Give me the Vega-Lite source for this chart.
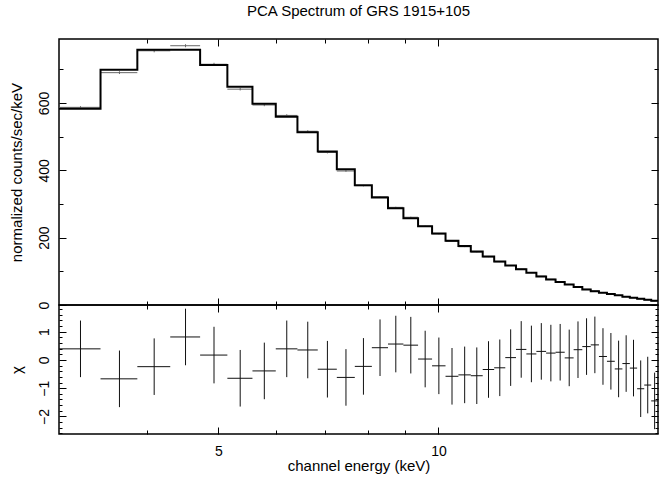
{
  "$schema": "https://vega.github.io/schema/vega-lite/v6.json",
  "background": "white",
  "padding": {"left": 8, "top": 2, "right": 2, "bottom": 4},
  "spacing": 0,
  "bounds": "flush",
  "config": {
    "view": {"stroke": "black", "strokeWidth": 1.5},
    "axis": {
      "domain": false, "grid": false, "tickColor": "black", "tickWidth": 1,
      "labelColor": "black", "titleColor": "black",
      "labelFont": "Liberation Sans", "titleFont": "Liberation Sans",
      "labelFontSize": 14, "titleFontSize": 15, "titleFontWeight": "normal",
      "labelFlush": false, "labelOverlap": false, "labelBound": false
    }
  },
  "datasets": {
    "bins": [
      {"lo": 3.028, "hi": 3.451, "c": 3.240, "d": 587, "dlo": 583.5, "dhi": 590.5, "res": 0.39, "rlo": -0.61, "rhi": 1.39},
      {"lo": 3.451, "hi": 3.875, "c": 3.663, "d": 690, "dlo": 686, "dhi": 694, "res": -0.67, "rlo": -1.67, "rhi": 0.33},
      {"lo": 3.875, "hi": 4.298, "c": 4.086, "d": 755, "dlo": 750.5, "dhi": 759.5, "res": -0.24, "rlo": -1.24, "rhi": 0.76},
      {"lo": 4.298, "hi": 4.722, "c": 4.510, "d": 770, "dlo": 765.5, "dhi": 774.5, "res": 0.81, "rlo": -0.19, "rhi": 1.81},
      {"lo": 4.722, "hi": 5.145, "c": 4.933, "d": 715, "dlo": 710.7, "dhi": 719.3, "res": 0.17, "rlo": -0.83, "rhi": 1.17},
      {"lo": 5.145, "hi": 5.568, "c": 5.357, "d": 641, "dlo": 637.2, "dhi": 644.8, "res": -0.65, "rlo": -1.65, "rhi": 0.35},
      {"lo": 5.568, "hi": 5.992, "c": 5.780, "d": 594, "dlo": 590.4, "dhi": 597.6, "res": -0.39, "rlo": -1.39, "rhi": 0.61},
      {"lo": 5.992, "hi": 6.415, "c": 6.203, "d": 563, "dlo": 559.6, "dhi": 566.4, "res": 0.39, "rlo": -0.61, "rhi": 1.39},
      {"lo": 6.415, "hi": 6.839, "c": 6.627, "d": 516, "dlo": 512.9, "dhi": 519.1, "res": 0.35, "rlo": -0.65, "rhi": 1.35},
      {"lo": 6.839, "hi": 7.262, "c": 7.050, "d": 453, "dlo": 450.3, "dhi": 455.7, "res": -0.33, "rlo": -1.33, "rhi": 0.67},
      {"lo": 7.262, "hi": 7.685, "c": 7.474, "d": 398, "dlo": 395.6, "dhi": 400.4, "res": -0.62, "rlo": -1.62, "rhi": 0.38},
      {"lo": 7.685, "hi": 8.109, "c": 7.897, "d": 354.5, "dlo": 352.4, "dhi": 356.6, "res": -0.23, "rlo": -1.23, "rhi": 0.77},
      {"lo": 8.109, "hi": 8.532, "c": 8.320, "d": 321.6, "dlo": 319.7, "dhi": 323.5, "res": 0.43, "rlo": -0.57, "rhi": 1.43},
      {"lo": 8.532, "hi": 8.956, "c": 8.744, "d": 290, "dlo": 288.3, "dhi": 291.7, "res": 0.56, "rlo": -0.44, "rhi": 1.56},
      {"lo": 8.956, "hi": 9.379, "c": 9.167, "d": 260.6, "dlo": 259, "dhi": 262.2, "res": 0.52, "rlo": -0.48, "rhi": 1.52},
      {"lo": 9.379, "hi": 9.802, "c": 9.591, "d": 234.1, "dlo": 232.7, "dhi": 235.5, "res": 0.03, "rlo": -0.97, "rhi": 1.03},
      {"lo": 9.802, "hi": 10.226, "c": 10.014, "d": 211.1, "dlo": 209.8, "dhi": 212.4, "res": -0.21, "rlo": -1.21, "rhi": 0.79},
      {"lo": 10.226, "hi": 10.649, "c": 10.437, "d": 188.7, "dlo": 187.5, "dhi": 189.9, "res": -0.58, "rlo": -1.58, "rhi": 0.42},
      {"lo": 10.649, "hi": 11.073, "c": 10.861, "d": 173, "dlo": 171.9, "dhi": 174.1, "res": -0.53, "rlo": -1.53, "rhi": 0.47},
      {"lo": 11.073, "hi": 11.496, "c": 11.284, "d": 157.1, "dlo": 156.1, "dhi": 158.1, "res": -0.56, "rlo": -1.56, "rhi": 0.44},
      {"lo": 11.496, "hi": 11.919, "c": 11.708, "d": 143, "dlo": 142.1, "dhi": 143.9, "res": -0.34, "rlo": -1.34, "rhi": 0.66},
      {"lo": 11.919, "hi": 12.343, "c": 12.131, "d": 128.2, "dlo": 127.4, "dhi": 129, "res": -0.28, "rlo": -1.28, "rhi": 0.72},
      {"lo": 12.343, "hi": 12.766, "c": 12.554, "d": 117.2, "dlo": 116.45, "dhi": 117.95, "res": 0.08, "rlo": -0.92, "rhi": 1.08},
      {"lo": 12.766, "hi": 13.190, "c": 12.978, "d": 106.9, "dlo": 106.2, "dhi": 107.6, "res": 0.37, "rlo": -0.63, "rhi": 1.37},
      {"lo": 13.190, "hi": 13.613, "c": 13.401, "d": 96.5, "dlo": 95.85, "dhi": 97.15, "res": 0.21, "rlo": -0.79, "rhi": 1.21},
      {"lo": 13.613, "hi": 14.036, "c": 13.825, "d": 85.6, "dlo": 85, "dhi": 86.2, "res": 0.30, "rlo": -0.70, "rhi": 1.30},
      {"lo": 14.036, "hi": 14.460, "c": 14.248, "d": 76.5, "dlo": 75.95, "dhi": 77.05, "res": 0.24, "rlo": -0.76, "rhi": 1.24},
      {"lo": 14.460, "hi": 14.883, "c": 14.671, "d": 68.5, "dlo": 68, "dhi": 69, "res": 0.27, "rlo": -0.73, "rhi": 1.27},
      {"lo": 14.883, "hi": 15.307, "c": 15.095, "d": 61.1, "dlo": 60.6, "dhi": 61.6, "res": 0.07, "rlo": -0.93, "rhi": 1.07},
      {"lo": 15.307, "hi": 15.730, "c": 15.518, "d": 54.1, "dlo": 53.65, "dhi": 54.55, "res": 0.36, "rlo": -0.64, "rhi": 1.36},
      {"lo": 15.730, "hi": 16.153, "c": 15.942, "d": 46.7, "dlo": 46.25, "dhi": 47.15, "res": 0.47, "rlo": -0.53, "rhi": 1.47},
      {"lo": 16.153, "hi": 16.577, "c": 16.365, "d": 41.7, "dlo": 41.3, "dhi": 42.1, "res": 0.53, "rlo": -0.47, "rhi": 1.53},
      {"lo": 16.577, "hi": 17.000, "c": 16.788, "d": 36.6, "dlo": 36.2, "dhi": 37, "res": 0.12, "rlo": -0.88, "rhi": 1.12},
      {"lo": 17.000, "hi": 17.424, "c": 17.212, "d": 32.4, "dlo": 32, "dhi": 32.8, "res": -0.05, "rlo": -1.05, "rhi": 0.95},
      {"lo": 17.424, "hi": 17.847, "c": 17.635, "d": 28.3, "dlo": 27.9, "dhi": 28.7, "res": -0.32, "rlo": -1.32, "rhi": 0.68},
      {"lo": 17.847, "hi": 18.270, "c": 18.059, "d": 24.6, "dlo": 24.2, "dhi": 25, "res": -0.13, "rlo": -1.13, "rhi": 0.87},
      {"lo": 18.270, "hi": 18.694, "c": 18.482, "d": 21.4, "dlo": 21, "dhi": 21.8, "res": -0.29, "rlo": -1.29, "rhi": 0.71},
      {"lo": 18.694, "hi": 19.117, "c": 18.905, "d": 17.9, "dlo": 17.5, "dhi": 18.3, "res": -1.02, "rlo": -2.02, "rhi": -0.02},
      {"lo": 19.117, "hi": 19.541, "c": 19.329, "d": 15.1, "dlo": 14.7, "dhi": 15.5, "res": -0.89, "rlo": -1.89, "rhi": 0.11},
      {"lo": 19.541, "hi": 19.964, "c": 19.752, "d": 11.7, "dlo": 11.3, "dhi": 12.1, "res": -1.45, "rlo": -2.45, "rhi": -0.45}
    ],
    "model": [
      {"e": 3.028, "m": 583}, {"e": 3.451, "m": 699}, {"e": 3.875, "m": 758}, {"e": 4.298, "m": 758},
      {"e": 4.722, "m": 713}, {"e": 5.145, "m": 648}, {"e": 5.568, "m": 598}, {"e": 5.992, "m": 559},
      {"e": 6.415, "m": 513}, {"e": 6.839, "m": 456}, {"e": 7.262, "m": 403}, {"e": 7.685, "m": 356},
      {"e": 8.109, "m": 319}, {"e": 8.532, "m": 287}, {"e": 8.956, "m": 258}, {"e": 9.379, "m": 234},
      {"e": 9.802, "m": 212}, {"e": 10.226, "m": 191}, {"e": 10.649, "m": 175}, {"e": 11.073, "m": 159},
      {"e": 11.496, "m": 144}, {"e": 11.919, "m": 129}, {"e": 12.343, "m": 117}, {"e": 12.766, "m": 106},
      {"e": 13.190, "m": 96}, {"e": 13.613, "m": 85}, {"e": 14.036, "m": 76}, {"e": 14.460, "m": 68},
      {"e": 14.883, "m": 61}, {"e": 15.307, "m": 53.5}, {"e": 15.730, "m": 46}, {"e": 16.153, "m": 41},
      {"e": 16.577, "m": 36.5}, {"e": 17.000, "m": 32.5}, {"e": 17.424, "m": 28.6}, {"e": 17.847, "m": 24.7},
      {"e": 18.270, "m": 21.7}, {"e": 18.694, "m": 18.8}, {"e": 19.117, "m": 15.8}, {"e": 19.541, "m": 12.8},
      {"e": 19.964, "m": 12.8}
    ]
  },
  "vconcat": [
    {
      "width": 599, "height": 266,
      "title": {"text": "PCA Spectrum of GRS 1915+105", "frame": "group", "anchor": "middle", "offset": 20, "fontSize": 15, "fontWeight": "normal", "font": "Liberation Sans", "color": "black"},
      "layer": [
        {
          "data": {"name": "bins"},
          "mark": {"type": "rule", "color": "#666666", "strokeWidth": 1},
          "encoding": {
            "x": {"field": "lo", "type": "quantitative", "scale": {"type": "log", "domain": [3.028, 19.964], "nice": false, "zero": false},
                  "axis": {"orient": "bottom", "values": [5, 10], "tickSize": -7, "labels": false, "title": null}},
            "x2": {"field": "hi"},
            "y": {"field": "d", "type": "quantitative", "scale": {"domain": [0, 790], "nice": false, "zero": false},
                  "axis": {"orient": "left", "values": [0, 200, 400, 600], "tickSize": -7, "labelAngle": -90, "labelAlign": "center", "labelBaseline": "bottom", "labelPadding": 15, "title": "normalized counts/sec/keV", "titlePadding": 13}}
          }
        },
        {
          "data": {"name": "bins"},
          "mark": {"type": "rule", "color": "#666666", "strokeWidth": 1},
          "encoding": {
            "x": {"field": "c", "type": "quantitative", "scale": {"type": "log", "domain": [3.028, 19.964], "nice": false, "zero": false},
                  "axis": {"orient": "bottom", "values": [4, 6, 7, 8, 9], "tickSize": -4, "labels": false, "title": null}},
            "y": {"field": "dlo", "type": "quantitative", "scale": {"domain": [0, 790], "nice": false, "zero": false},
                  "axis": {"orient": "left", "values": [100, 300, 500, 700], "tickSize": -4, "labels": false, "title": null}},
            "y2": {"field": "dhi"}
          }
        },
        {
          "data": {"name": "model"},
          "mark": {"type": "line", "interpolate": "step-after", "color": "black", "strokeWidth": 2},
          "encoding": {
            "x": {"field": "e", "type": "quantitative", "scale": {"type": "log", "domain": [3.028, 19.964], "nice": false, "zero": false},
                  "axis": {"orient": "top", "values": [5, 10], "tickSize": -7, "labels": false, "title": null}},
            "y": {"field": "m", "type": "quantitative", "scale": {"domain": [0, 790], "nice": false, "zero": false},
                  "axis": {"orient": "right", "values": [0, 200, 400, 600], "tickSize": -7, "labels": false, "title": null}}
          }
        },
        {
          "data": {"name": "bins"},
          "mark": {"type": "rule", "opacity": 0},
          "encoding": {
            "x": {"field": "lo", "type": "quantitative", "scale": {"type": "log", "domain": [3.028, 19.964], "nice": false, "zero": false},
                  "axis": {"orient": "top", "values": [4, 6, 7, 8, 9], "tickSize": -4, "labels": false, "title": null}},
            "x2": {"field": "hi"},
            "y": {"field": "d", "type": "quantitative", "scale": {"domain": [0, 790], "nice": false, "zero": false},
                  "axis": {"orient": "right", "values": [100, 300, 500, 700], "tickSize": -4, "labels": false, "title": null}}
          }
        }
      ],
      "resolve": {"axis": {"x": "independent", "y": "independent"}}
    },
    {
      "width": 599, "height": 129,
      "layer": [
        {
          "data": {"name": "bins"},
          "mark": {"type": "rule", "color": "#111111", "strokeWidth": 1},
          "encoding": {
            "x": {"field": "lo", "type": "quantitative", "scale": {"type": "log", "domain": [3.028, 19.964], "nice": false, "zero": false},
                  "axis": {"orient": "bottom", "values": [5, 10], "tickSize": -7, "labelPadding": 17, "title": "channel energy (keV)", "titlePadding": 0}},
            "x2": {"field": "hi"},
            "y": {"field": "res", "type": "quantitative", "scale": {"domain": [-2.62, 1.94], "nice": false, "zero": false},
                  "axis": {"orient": "left", "values": [-2, -1, 0, 1], "tickSize": -7, "labelAngle": -90, "labelAlign": "center", "labelBaseline": "bottom", "labelPadding": 15, "title": "χ", "titlePadding": 13}}
          }
        },
        {
          "data": {"name": "bins"},
          "mark": {"type": "rule", "color": "#111111", "strokeWidth": 1},
          "encoding": {
            "x": {"field": "c", "type": "quantitative", "scale": {"type": "log", "domain": [3.028, 19.964], "nice": false, "zero": false},
                  "axis": {"orient": "bottom", "values": [4, 6, 7, 8, 9], "tickSize": -4, "labels": false, "title": null}},
            "y": {"field": "rlo", "type": "quantitative", "scale": {"domain": [-2.62, 1.94], "nice": false, "zero": false},
                  "axis": {"orient": "left", "values": [-2.6, -2.4, -2.2, -1.8, -1.6, -1.4, -1.2, -0.8, -0.6, -0.4, -0.2, 0.2, 0.4, 0.6, 0.8, 1.2, 1.4, 1.6, 1.8], "tickSize": -3, "labels": false, "title": null}},
            "y2": {"field": "rhi"}
          }
        },
        {
          "mark": {"type": "rule", "color": "black", "strokeWidth": 1, "strokeDash": [5, 4]},
          "encoding": {
            "x": {"datum": 3.028, "type": "quantitative", "scale": {"type": "log", "domain": [3.028, 19.964], "nice": false, "zero": false},
                  "axis": {"orient": "top", "values": [5, 10], "tickSize": -7, "labels": false, "title": null}},
            "x2": {"datum": 19.964},
            "y": {"datum": 0, "type": "quantitative", "scale": {"domain": [-2.62, 1.94], "nice": false, "zero": false},
                  "axis": {"orient": "right", "values": [-2, -1, 0, 1], "tickSize": -7, "labels": false, "title": null}}
          }
        },
        {
          "data": {"name": "bins"},
          "mark": {"type": "rule", "opacity": 0},
          "encoding": {
            "x": {"field": "lo", "type": "quantitative", "scale": {"type": "log", "domain": [3.028, 19.964], "nice": false, "zero": false},
                  "axis": {"orient": "top", "values": [4, 6, 7, 8, 9], "tickSize": -4, "labels": false, "title": null}},
            "x2": {"field": "hi"},
            "y": {"field": "res", "type": "quantitative", "scale": {"domain": [-2.62, 1.94], "nice": false, "zero": false},
                  "axis": {"orient": "right", "values": [-2.6, -2.4, -2.2, -1.8, -1.6, -1.4, -1.2, -0.8, -0.6, -0.4, -0.2, 0.2, 0.4, 0.6, 0.8, 1.2, 1.4, 1.6, 1.8], "tickSize": -3, "labels": false, "title": null}}
          }
        }
      ],
      "resolve": {"axis": {"x": "independent", "y": "independent"}}
    }
  ]
}
